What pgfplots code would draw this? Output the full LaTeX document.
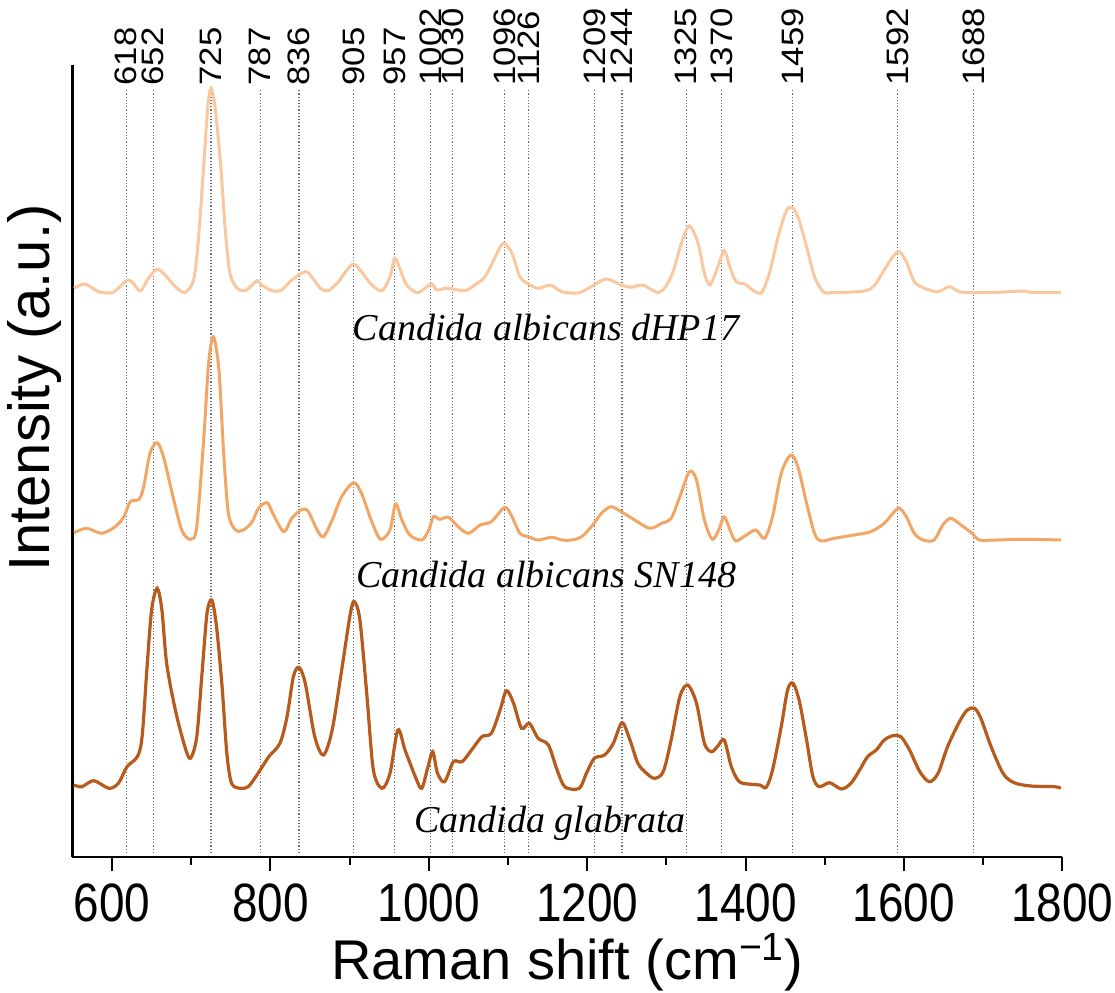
\documentclass[border=0pt]{standalone}
\usepackage{fontspec}
\setmainfont{Liberation Sans}
\newfontfamily\serifit{Liberation Serif}
\newfontfamily\tickfont[FakeStretch=0.85]{Liberation Sans}
\newfontfamily\peakfont[FakeStretch=1.12]{Liberation Sans}
\usepackage{pgfplots}
\pgfplotsset{compat=1.18}
\definecolor{cTop}{RGB}{250,199,158}
\definecolor{cMid}{RGB}{242,166,102}
\definecolor{cBot}{RGB}{182,91,28}
\definecolor{cDot}{RGB}{105,112,125}
\begin{document}
\begin{tikzpicture}
\useasboundingbox (0,0) rectangle (557.5pt,496pt);
\begin{axis}[
  at={(36.2pt,67.5pt)}, anchor=south west,
  width=495pt, height=396pt, scale only axis,
  xmin=550, xmax=1800, ymin=0, ymax=792,
  axis x line=bottom, axis y line=left,
  axis line style={-, line width=1.2pt, black},
  ytick=\empty,
  xtick={600,800,...,1800}, minor xtick={700,900,...,1700},
  tick align=outside, major tick length=7pt, minor tick length=4pt,
  tick style={line width=1pt, black},
  /pgf/number format/1000 sep={},
  /pgf/number format/assume math mode=true,
  xticklabel style={font=\tickfont\fontsize{27}{30}\selectfont, yshift=-3pt},
  xlabel={Raman shift (cm\textsuperscript{\char"2212 1})},
  ylabel={Intensity (a.u.)},
  xlabel style={font=\fontsize{28}{32}\selectfont, at={(rel axis cs:0.5,-0.133)}, anchor=center},
  ylabel style={font=\fontsize{29}{33}\selectfont, at={(rel axis cs:-0.038,0.592)}, anchor=center},
  clip=false,
]
\pgfplotsinvokeforeach{618,652,725,787,836,905,957,1002,1030,1096,1126,1209,1244,1325,1370,1459,1592,1688}{
  \addplot[cDot, densely dotted, line width=0.6pt, forget plot] coordinates {(#1,4) (#1,767)};
  \node[rotate=90, anchor=west, inner sep=0pt, font=\peakfont\fontsize{15.5}{18}\selectfont] at (axis cs:#1,771) {#1};
}
% Candida albicans dHP17
\addplot[cTop, line width=1.5pt, smooth, tension=0.5] coordinates {
(552,568.7) (566,573) (583,565.3) (600,564.3) (610,570.3) (620,577) (627,573.7) (636,566)
(646,578.7) (657,587.7) (667,582) (680,570.3) (692,564.7) (703,577) (709,617) (716,693.7)
(721,750.3) (725,768.7) (730,750.3) (737,693.7) (743,627) (749,583.7) (758,568.7) (768,566.3)
(777,572) (783,576.3) (789,572) (802,566.3) (814,567) (827,577) (844,585.3) (852,580.3)
(863,568.7) (873,566.3) (886,575.3) (896,586.3) (905,593) (915,585.3) (928,572) (941,566.3)
(951,580.3) (957,598.7) (964,587) (972,572) (985,564.3) (995,568.7) (1004,573) (1010,567)
(1021,568.7) (1033,567.7) (1046,566.3) (1058,572) (1071,580.3) (1082,597) (1094,613.7) (1105,603.7)
(1115,580.3) (1126,573) (1138,568.7) (1153,572) (1164,567) (1172,564.5) (1190,564.3) (1205,570.3)
(1224,578) (1243,572) (1256,569.7) (1270,572) (1291,564.7) (1306,580.3) (1319,613.7) (1329,631)
(1340,613.7) (1348,583.7) (1355,572) (1365,590.3) (1373,606.3) (1380,590.3) (1388,575.3) (1399,573)
(1409,567) (1420,564.3) (1430,583.7) (1441,620.3) (1451,645.3) (1458,649.7) (1466,640.3) (1477,610.3)
(1487,580.3) (1498,565.3) (1508,564.3) (1550,566) (1563,572) (1575,587) (1586,600.3) (1594,605.3)
(1603,595.3) (1613,575.3) (1626,568.7) (1643,565.3) (1657,570.3) (1670,565.3) (1689,564.3) (1718,564.7)
(1752,566) (1760,564.7) (1798,564.7)
};
% Candida albicans SN148
\addplot[cMid, line width=1.5pt, smooth, tension=0.5] coordinates {
(552,324.3) (568,328.7) (587,323.7) (604,330.3) (615,340.3) (623,355.3) (634,357.7) (640,370.3)
(648,403.7) (657,414.3) (665,400.3) (676,363.7) (688,327) (699,317.7) (707,330.3) (716,420.3)
(722,493.7) (728,520.3) (735,487) (741,403.7) (747,343.7) (756,327) (766,327) (777,335.3)
(785,348.7) (796,354.3) (804,342) (817,325.3) (827,338.7) (840,347.7) (848,345.3) (859,327)
(867,320.3) (878,337) (890,360.3) (905,374.3) (915,363.7) (928,335.3) (939,317.7) (951,327)
(958,353) (966,337) (976,322) (991,317) (1000,327) (1006,340.3) (1014,337.7) (1025,339.7)
(1037,330.3) (1050,323.7) (1065,332) (1079,335.3) (1096,349.7) (1105,340.3) (1115,323.7) (1126,320.3)
(1138,317) (1155,319.7) (1168,317) (1180,317) (1193,320.3) (1207,332) (1218,343.7) (1230,350.3)
(1243,345.3) (1260,337) (1279,328.7) (1294,333.7) (1306,338.7) (1317,360.3) (1329,385.3) (1338,377)
(1348,337) (1358,317.7) (1367,328.7) (1373,340.3) (1382,323.7) (1388,316) (1401,322) (1413,327)
(1424,318.7) (1434,340.3) (1445,383.7) (1457,402) (1466,390.3) (1477,353.7) (1487,323.7) (1495,316)
(1512,318.7) (1537,322) (1558,325.3) (1575,333.7) (1586,343.7) (1594,348.7) (1603,340.3) (1613,323.7)
(1624,317) (1638,317) (1649,332) (1659,338.7) (1672,332) (1687,323) (1695,317) (1718,317)
(1752,317.7) (1798,317)
};
% Candida glabrata
\addplot[cBot, line width=1.6pt, smooth, tension=0.5] coordinates {
(552,72) (562,70.3) (577,76.3) (596,68.7) (608,73.7) (619,90.3) (632,100.3) (638,120.3)
(644,187) (650,247) (657,268.7) (663,247) (669,193.7) (680,147) (692,110.3) (699,98.7)
(707,120.3) (714,187) (720,243.7) (726,257) (732,230.3) (739,170.3) (745,103.7) (751,73.7)
(762,68.7) (772,70.3) (783,82) (798,100.3) (812,113.7) (821,140.3) (829,180.3) (836,189.7)
(844,173.7) (856,120.3) (867,102) (878,127) (890,187) (901,243.7) (906,255.3) (913,237)
(922,160.3) (930,87) (941,68.7) (951,83.7) (961,127) (970,107) (983,80.3) (991,68.7)
(999,90.3) (1005,105.3) (1011,83.7) (1020,75.3) (1031,95.3) (1042,95.3) (1054,107) (1067,120.3)
(1079,123.7) (1090,147) (1098,166.3) (1107,153.7) (1117,128.7) (1127,133.7) (1138,118.7) (1151,112)
(1162,87) (1172,70) (1190,68.7) (1199,83.7) (1209,98.7) (1222,102) (1233,113.7) (1244,134.3)
(1254,117) (1264,93.7) (1275,83.7) (1285,78.7) (1296,85.3) (1306,117) (1317,160.3) (1327,172)
(1338,153.7) (1348,113.7) (1357,105.3) (1365,111) (1373,117) (1382,90.3) (1392,75.3) (1407,72.7)
(1418,72) (1426,69.7) (1434,87) (1445,130.3) (1453,167) (1460,173.7) (1468,155.3) (1477,117)
(1485,80.3) (1493,70.3) (1506,74.3) (1521,68) (1533,73.7) (1544,87) (1554,100.3) (1565,107)
(1575,117) (1586,121.3) (1596,120.3) (1607,107) (1620,85.3) (1632,75.3) (1643,83.7) (1655,110.3)
(1670,135.3) (1680,147) (1689,148.7) (1697,138.7) (1710,110.3) (1725,83.7) (1739,74.3) (1760,71)
(1790,70.3) (1798,68.7)
};
\node[font=\serifit\itshape\fontsize{19}{23}\selectfont, anchor=base] at (axis cs:1148,516) {Candida albicans dHP17};
\node[font=\serifit\itshape\fontsize{19}{23}\selectfont, anchor=base] at (axis cs:1148,270) {Candida albicans SN148};
\node[font=\serifit\itshape\fontsize{19}{23}\selectfont, anchor=base] at (axis cs:1153,25) {Candida glabrata};
\end{axis}
\end{tikzpicture}
\end{document}
